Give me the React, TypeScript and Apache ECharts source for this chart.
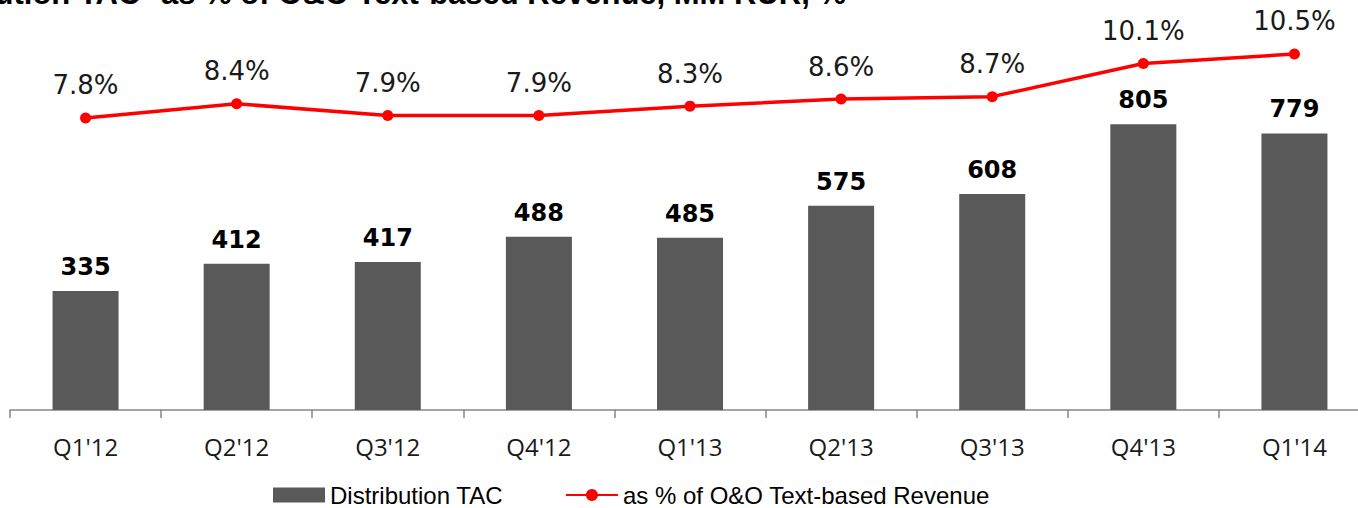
import React, { useEffect, useRef } from "react";
import * as echarts from "echarts";

const categories = ["Q1'12", "Q2'12", "Q3'12", "Q4'12", "Q1'13", "Q2'13", "Q3'13", "Q4'13", "Q1'14"];
const tacValues = [335, 412, 417, 488, 485, 575, 608, 805, 779];
const pctValues = [7.8, 8.4, 7.9, 7.9, 8.3, 8.6, 8.7, 10.1, 10.5];
const titleText = "Distribution TAC* as % of O&O Text-based Revenue, MM RUR, %";
const barName = "Distribution TAC";
const lineName = "as % of O&O Text-based Revenue";

export default function App() {
  const ref = useRef<HTMLDivElement>(null);
  useEffect(() => {
    if (!ref.current) return;
    const chart = echarts.init(ref.current, undefined, { renderer: "svg" });
    chart.setOption({
      animation: false,
      backgroundColor: "#ffffff",
      graphic: [
        {
          type: "text",
          right: 1358 - 846,
          top: -22,
          style: {
            text: titleText,
            font: "bold 31px 'Liberation Sans', Arial, sans-serif",
            fill: "#000000",
          },
        },
      ],
      legend: {
        left: 268,
        top: 478,
        padding: 5,
        itemWidth: 52,
        itemHeight: 15,
        itemGap: 62,
        textStyle: {
          fontFamily: "'Liberation Sans', Arial, sans-serif",
          fontSize: 24,
          color: "#000000",
        },
        data: [
          { name: barName, icon: "rect" },
          { name: lineName },
        ],
      },
      grid: { left: 10, width: 1360, top: 40, bottom: 98, outerBoundsMode: "none" },
      xAxis: {
        type: "category",
        data: categories,
        axisLine: { lineStyle: { color: "#868686", width: 1.5 } },
        axisTick: { show: true, length: 8, lineStyle: { color: "#868686", width: 1.5 } },
        axisLabel: {
          margin: 24,
          fontFamily: "'Open Sans', sans-serif",
          fontSize: 24,
          color: "#1a1a1a",
        },
      },
      yAxis: [
        { type: "value", min: 0, max: 1042, show: false, splitLine: { show: false } },
        { type: "value", min: -4.52, max: 11.09, show: false, splitLine: { show: false } },
      ],
      series: [
        {
          name: barName,
          type: "bar",
          data: tacValues,
          barWidth: 66,
          itemStyle: { color: "#595959" },
          label: {
            show: true,
            position: "top",
            distance: 12,
            fontFamily: "'DejaVu Sans', sans-serif",
            fontWeight: "bold",
            fontSize: 24,
            color: "#000000",
          },
        },
        {
          name: lineName,
          type: "line",
          yAxisIndex: 1,
          data: pctValues,
          symbol: "circle",
          symbolSize: 11,
          lineStyle: { color: "#ff0000", width: 3.5 },
          itemStyle: { color: "#ff0000" },
          label: {
            show: true,
            position: "top",
            distance: 14,
            formatter: (p: any) => p.value.toFixed(1) + "%",
            fontFamily: "'DejaVu Sans', sans-serif",
            fontSize: 26,
            color: "#1a1a1a",
          },
        },
      ],
    });
    return () => chart.dispose();
  }, []);
  return (
    <div
      ref={ref}
      style={{ position: "absolute", left: 0, top: 0, width: 1358, height: 508 }}
    />
  );
}
